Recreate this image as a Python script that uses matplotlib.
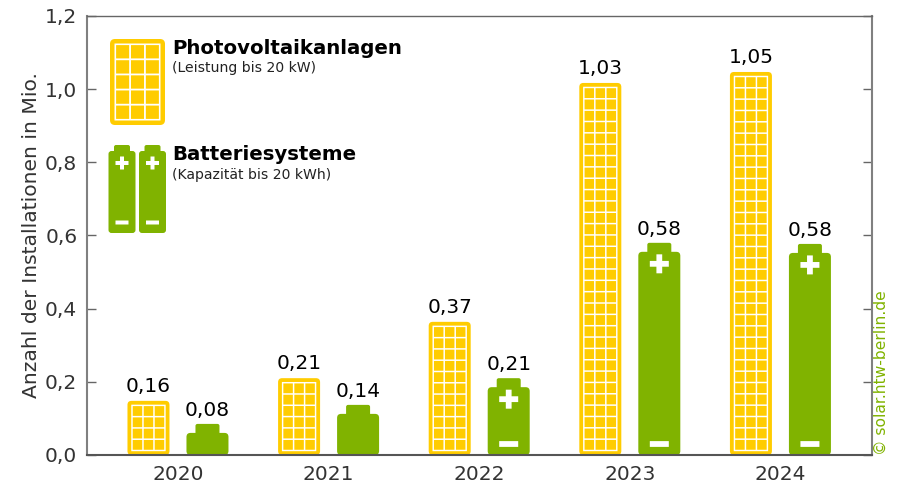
import matplotlib
matplotlib.use('Agg')
import matplotlib.pyplot as plt
from matplotlib.patches import FancyBboxPatch, Rectangle

years = ['2020', '2021', '2022', '2023', '2024']
# heights as drawn in the picture (the labels are rounded differently)
pv_heights = [0.148, 0.21, 0.364, 1.017, 1.047]
bat_heights = [0.085, 0.137, 0.21, 0.58, 0.577]
pv_labels = ['0,16', '0,21', '0,37', '1,03', '1,05']
bat_labels = ['0,08', '0,14', '0,21', '0,58', '0,58']
y_ticks = [0.0, 0.2, 0.4, 0.6, 0.8, 1.0, 1.2]
y_tick_labels = ['0,0', '0,2', '0,4', '0,6', '0,8', '1,0', '1,2']

YELLOW = '#ffcc00'
GREEN = '#80b300'
GREY = '#666666'
W, H = 897, 484
LEFT, RIGHT, TOP, BOTTOM = 87, 872, 16, 455

plt.rcParams['font.family'] = 'DejaVu Sans'
fig = plt.figure(figsize=(W / 100, H / 100), dpi=100)
ax = fig.add_axes([LEFT / W, 1 - BOTTOM / H, (RIGHT - LEFT) / W, (BOTTOM - TOP) / H])
ax.set_xlim(-0.604, 4.608)
ax.set_ylim(0, 1.2)

# size of one pixel in data units
px = (4.608 + 0.604) / (RIGHT - LEFT)
py = 1.2 / (BOTTOM - TOP)
aspect = py / px


def rect(x, y, w, h, color, z=5):
    ax.add_patch(Rectangle((x, y), w, h, fc=color, ec='none', zorder=z, snap=False))


def rbox(x, y, w, h, r, color, z=3):
    ax.add_patch(FancyBboxPatch((x, y), w, h, boxstyle=f'round,pad=0,rounding_size={r * px}',
                                mutation_aspect=aspect, fc=color, ec='none', zorder=z,
                                clip_on=False))


def solar(x0, y0, w_px, h_px, rows, border, r, gap):
    rbox(x0, y0, w_px * px, h_px * py, r, YELLOW)
    rect(x0 + border * px, y0 + border * py, (w_px - 2 * border) * px, (h_px - 2 * border) * py, 'white', 4)
    start = border + 0.7
    cw = (w_px - 2 * start) / 3
    ch = (h_px - 2 * start) / rows
    for row in range(rows):
        for c in range(3):
            rect(x0 + (start + c * cw + gap / 2) * px, y0 + (start + row * ch + gap / 2) * py,
                 (cw - gap) * px, (ch - gap) * py, YELLOW)


def signs(xc, yp, ym, sign_w, sign_t):
    rect(xc - sign_w * px / 2, yp - sign_t * py / 2, sign_w * px, sign_t * py, 'white')
    rect(xc - sign_t * px / 2, yp - sign_w * py / 2, sign_t * px, sign_w * py, 'white')
    rect(xc - sign_w * px / 2, ym - sign_t * py / 2, sign_w * px, sign_t * py, 'white')


def battery(xc, height, w_px, nub_px, nub_w):
    w = w_px * px
    x0 = xc - w / 2
    rbox(x0, 0, w, height - nub_px * py, 4, GREEN)
    rbox(xc - nub_w * px / 2, height - nub_px * py - 3 * py, nub_w * px, (nub_px + 3) * py, 2, GREEN)
    if height / py - nub_px > 50:
        signs(xc, height - (nub_px + 12) * py, 11 * py, 19, 5.8)


bar_off = 29.5 * px
for i in range(len(years)):
    rows = max(1, round((pv_heights[i] / py - 9) / 11.3))
    solar(i - bar_off - 21 * px, 0, 42, pv_heights[i] / py, rows, 3.8, 4, 1.5)
    battery(i + bar_off, bat_heights[i], 42, 9, 24)
    ax.annotate(pv_labels[i], (i - bar_off, pv_heights[i]), xytext=(0, 3.5), textcoords='offset points',
                ha='center', va='bottom', fontsize=14.5, color='black', zorder=6)
    ax.annotate(bat_labels[i], (i + bar_off, bat_heights[i]), xytext=(0, 3), textcoords='offset points',
                ha='center', va='bottom', fontsize=14.5, color='black', zorder=6)

ax.set_xticks(range(len(years)))
ax.set_xticklabels(years)
ax.set_yticks(y_ticks)
ax.set_yticklabels(y_tick_labels)
ax.tick_params(axis='y', which='both', direction='in', length=6.5, width=1, color=GREY,
               right=True, labelsize=14.5, labelcolor='#333333', pad=7)
ax.tick_params(axis='x', length=0, labelsize=14.5, labelcolor='#333333', pad=7.5)
for s in ax.spines.values():
    s.set_color(GREY)
    s.set_linewidth(1.5)
    s.set_zorder(7)
ax.spines['top'].set_linewidth(1)
ax.spines['left'].set_color('#808080')
ax.spines['right'].set_color('#808080')
ax.spines['bottom'].set_color('#555555')
ax.set_ylabel('Anzahl der Installationen in Mio.', fontsize=14.6, color='#333333')
ax.yaxis.set_label_coords(-0.0586, 0.5)


# legend, placed in pixel positions of the figure
def to_xy(xp, yp):
    return ax.transData.inverted().transform((xp, H - yp))


def legend_battery(xc_px):
    x0, y0 = to_xy(xc_px - 13.5, 233)
    w = 27 * px
    rbox(x0, y0, w, 82 * py, 3, GREEN)
    rbox(x0 + 5.5 * px, y0 + 78 * py, 16 * px, 10 * py, 2, GREEN)
    signs(x0 + w / 2, y0 + 70 * py, y0 + 10.5 * py, 13, 4)


lx, ly = to_xy(110, 125)
solar(lx, ly, 55, 86, 5, 4.5, 5, 1.8)
legend_battery(122)
legend_battery(152.5)

fig.text(172 / W, 1 - 48 / H, 'Photovoltaikanlagen', fontsize=14.2, fontweight='bold', va='center', color='black')
fig.text(172 / W, 1 - 68 / H, '(Leistung bis 20 kW)', fontsize=10.1, va='center', color='#222222')
fig.text(172 / W, 1 - 155 / H, 'Batteriesysteme', fontsize=14.2, fontweight='bold', va='center', color='black')
fig.text(172 / W, 1 - 175 / H, '(Kapazität bis 20 kWh)', fontsize=10.1, va='center', color='#222222')
fig.text(881.5 / W, 1 - 455 / H, '© solar.htw-berlin.de', rotation=90, fontsize=11.2, color=GREEN,
         ha='center', va='bottom')

fig.savefig('out.png', dpi=100, facecolor='white')
